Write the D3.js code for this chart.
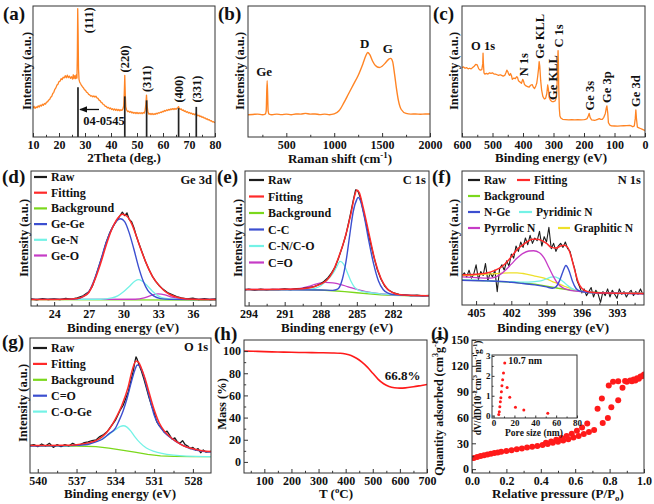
<!DOCTYPE html>
<html><head><meta charset="utf-8">
<script src="https://cdn.jsdelivr.net/npm/d3@7/dist/d3.min.js"></script>
<style>html,body{margin:0;padding:0;background:#fff;overflow:hidden}</style>
</head><body>
<svg id="fig" width="654" height="504" xmlns="http://www.w3.org/2000/svg"></svg>
<script>
// ================= DATA =================
// (a) XRD: [2theta, intensity %]
const xrdPattern = [[10,22],[10.4,23.5],[10.8,21.8],[11.2,23],[11.6,22.4],[12,23.8],[12.4,22.9],[12.8,24.3],[13.2,23.6],[13.6,25],[14,24.2],[14.4,25.6],[14.8,25.1],[15.2,26.6],[15.6,26.8],[16,28.2],[16.4,28.6],[16.8,30.4],[17.2,31],[17.6,33.2],[18,34.1],[18.4,36.4],[18.8,37.5],[19.2,39.6],[19.6,40.2],[20,42.3],[20.4,42.6],[20.8,44.5],[21.2,43.8],[21.6,45.6],[22,45.1],[22.4,46.8],[22.8,45.2],[23.2,47.2],[23.6,45.3],[24,46.5],[24.4,44.8],[24.8,46],[25.2,44.2],[25.5,47.5],[25.8,44.6],[26.1,46.8],[26.4,44.5],[26.7,47.6],[26.9,45],[27.05,62],[27.2,98],[27.35,80],[27.5,52],[27.7,44],[27.9,42.2],[28.2,41],[28.6,39.6],[29,38.4],[29.4,37.5],[29.8,36.1],[30.2,35.6],[30.6,34.2],[31,33.8],[31.4,32.5],[31.8,32.2],[32.2,31.2],[32.6,31.5],[33,30.6],[33.4,31.4],[33.8,30.5],[34.2,31.2],[34.6,29.8],[35,29.5],[35.4,28.2],[35.8,27.8],[36.2,26.4],[36.6,26],[37,24.8],[37.4,24.5],[37.8,23.4],[38.2,23.3],[38.6,22.2],[39,22.6],[39.4,21.6],[39.8,22.2],[40.2,21],[40.6,21.6],[41,20.6],[41.4,21.4],[41.8,20.4],[42.2,21.2],[42.6,20.2],[43,21],[43.4,20],[43.8,20.8],[44.2,20.3],[44.6,21.4],[44.9,24],[45.1,33],[45.3,47],[45.5,32],[45.7,23],[46,20.6],[46.4,19.4],[46.8,19.8],[47.2,18.8],[47.6,19.5],[48,18.4],[48.4,19],[48.8,18.1],[49.2,18.8],[49.6,17.9],[50,18.7],[50.4,17.8],[50.8,18.6],[51.2,17.9],[51.6,18.6],[52,17.8],[52.4,18.7],[52.8,18.2],[53.1,20],[53.4,25],[53.65,32],[53.9,24],[54.2,19],[54.6,17.4],[55,18],[55.4,17.2],[55.8,17.9],[56.2,17.1],[56.6,17.8],[57,17.3],[57.4,18.1],[57.8,17.6],[58.2,18.5],[58.6,18.2],[59,19],[59.4,18.7],[59.8,19.6],[60.2,19.3],[60.6,20.2],[61,19.8],[61.4,20.7],[61.8,20.2],[62.2,21.1],[62.6,20.6],[63,21.5],[63.4,20.9],[63.8,21.7],[64.2,21],[64.6,21.8],[65,21.1],[65.4,21.9],[65.8,22.6],[66,23.2],[66.2,22],[66.6,21.1],[67,21.4],[67.4,20.3],[67.8,20.6],[68.2,19.6],[68.6,19.9],[69,18.9],[69.4,19.3],[69.8,18.3],[70.2,18.7],[70.6,17.8],[71,18.2],[71.4,17.3],[71.8,17.8],[72.2,16.9],[72.6,17.6],[72.8,18.4],[73,17],[73.4,16.2],[73.8,16.6],[74.2,15.6],[74.6,16],[75,15],[75.4,15.3],[75.8,14.4],[76.2,14.6],[76.6,13.7],[77,13.9],[77.4,13],[77.8,13.2],[78.2,12.3],[78.6,12.4],[79,11.5],[79.4,11.7],[80,10.8]];
const refTheta = [27.3, 45.3, 53.7, 66.0, 72.8];
const refHeight = [38, 31, 28, 22, 23];
const xrdPeakNames = ["(111)","(220)","(311)","(400)","(331)"];
const xrdPeakTop = [77, 47, 32, 24, 24];
const xrdTicks = [10,20,30,40,50,60,70,80];

// (b) Raman: [shift, intensity %]
const raman = [[100,17],[150,17.2],[200,17.5],[250,17],[280,17.5],[290,20],[300,43],[310,20],[320,17.5],[350,17],[400,17.5],[450,17.1],[500,17.5],[550,17],[600,17.6],[650,17.5],[700,18],[750,17.5],[800,17.6],[850,17.1],[900,17.5],[950,17],[1000,17.6],[1050,20],[1100,26],[1150,33],[1200,40],[1250,47],[1300,56],[1330,62],[1350,64.5],[1370,63],[1400,58],[1430,54.5],[1470,53],[1500,54],[1540,57],[1570,59.5],[1590,60],[1610,57.5],[1630,48],[1650,37],[1670,28],[1700,21],[1750,18],[1800,17.5],[1850,17.6],[1900,17.4],[1950,17.6],[2000,17.5]];
const ramanPeakShift = [300, 1350, 1590];
const ramanPeakName = ["Ge","D","G"];
const ramanPeakTop = [43, 64.5, 60];
const ramanTicks = [500,1000,1500,2000];

// (c) XPS survey: [binding energy, intensity %]
const survey = [[600,53],[595,53.5],[590,52.5],[585,53],[580,52],[575,52.5],[570,52],[565,53],[560,54],[555,55.5],[550,55],[545,52],[540,51],[535,51.5],[532,56],[531,64],[530,57],[528,49],[525,48],[520,48.5],[515,48],[510,49],[505,48.5],[500,49],[495,48],[490,48],[485,47.5],[480,47],[475,47.5],[470,47],[465,46.5],[460,47],[456,49],[453,51],[450,50],[447,48],[444,47],[441,48.5],[438,47],[435,44],[430,45],[425,44.5],[421,46],[418,45.5],[415,43],[410,42],[405,41],[401,44],[398,42.5],[395,40],[390,39],[385,38.5],[380,38],[375,39.5],[370,40],[366,38],[362,37],[358,39],[355,41],[352,46],[349,52],[347,57.5],[345,54],[342,43],[339,36],[335,31],[330,29],[326,29.5],[322,33],[319,39.7],[317,37],[314,30],[310,28],[305,27],[300,27],[295,27.5],[292,29],[289,35],[287,50],[286,60],[285,66],[284,58],[283,40],[281,22],[279,16],[276,14.5],[270,13.5],[260,13.3],[250,13],[240,13.2],[230,13],[220,13.3],[210,13],[200,13.2],[195,13.5],[190,14],[186,16],[183,18],[180,15],[175,13],[165,12.7],[160,13],[155,13.5],[150,14],[145,13.5],[140,13.5],[135,15],[130,18],[127,22],[125,23.7],[122,18],[120,11],[115,9],[110,8.5],[100,8.4],[90,8.3],[80,8.5],[70,8.6],[60,8.7],[50,8.8],[45,8.5],[40,7.8],[35,8.5],[32,14],[30,20.6],[28,14],[25,7.5],[20,7],[15,6.5],[10,6],[5,5.5],[0,5]];
const surveyPeakBE = [531, 398, 347, 319, 285, 182, 125, 30];
const surveyPeakName = ["O 1s","N 1s","Ge KLL","Ge KLL","C 1s","Ge 3s","Ge 3p","Ge 3d"];
const surveyTicks = [600,500,400,300,200,100,0];

// (d) Ge 3d
const ge3dRaw = [[22,5.2],[22.5,4.6],[23,5.5],[23.5,4.8],[24,5.3],[24.5,4.7],[25,5.6],[25.5,5.0],[26,6.0],[26.5,7.5],[27,10.5],[27.3,14.5],[27.6,22],[27.9,30],[28.2,38],[28.5,47],[28.8,54],[29.1,59],[29.4,63],[29.7,67],[29.9,69.5],[30.1,67],[30.3,69],[30.5,64],[30.7,62.5],[30.9,58],[31.1,52],[31.3,47],[31.6,40],[31.9,33],[32.2,27],[32.5,22],[32.8,18],[33.1,15],[33.4,12.5],[33.8,10],[34.2,8.5],[34.6,7],[35,6],[35.5,5.3],[36,5.8],[36.5,4.7],[37,5.4],[37.5,4.8],[38,5.2]];
const ge3dFit = [[22,4.9],[24,4.9],[25,5],[26,5.6],[26.5,7],[27,10],[27.5,19],[28,31],[28.5,45],[29,57],[29.5,65],[29.9,68],[30.3,66.5],[30.7,61],[31.1,52],[31.5,42],[32,31],[32.5,22],[33,16],[33.5,11.5],[34,8.5],[34.5,6.8],[35,5.8],[36,5.0],[38,4.8]];
const ge3dBg = [[22,4.8],[30,4.6],[38,4.4]];
const ge3dGeGe = [[22,4.9],[25,4.9],[26,5.4],[26.5,7],[27,10.5],[27.5,20],[28,33],[28.5,47],[29,57.5],[29.4,63],[29.75,64.6],[30.1,62.5],[30.5,54],[30.9,42],[31.3,29],[31.7,18.5],[32.1,11.5],[32.6,7.5],[33.2,5.5],[34,4.9],[38,4.8]];
const ge3dGeN = [[22,4.9],[28,5],[29,6],[29.5,7.5],[30,10.5],[30.5,14.5],[31,18.5],[31.3,19.5],[31.6,18.5],[32,15.5],[32.5,11],[33,7.5],[33.5,5.8],[34.5,5],[38,4.8]];
const ge3dGeO = [[22,4.9],[31,5],[31.8,6],[32.4,7.8],[33,9],[33.6,8.2],[34.2,6.5],[35,5.3],[36,4.9],[38,4.8]];
const ge3dTicks = [24,27,30,33,36];

// (e) C 1s
const c1sRaw = [[294.3,12],[294,12.5],[293.5,11.8],[293,12.4],[292.5,11.9],[292,12.3],[291.5,12.1],[291,12.6],[290.5,12.2],[290,12.8],[289.5,13],[289,13.6],[288.5,14.5],[288,16.5],[287.7,18.5],[287.4,21],[287.1,24.5],[286.8,29],[286.5,36],[286.2,44],[285.9,53],[285.6,65],[285.3,78],[285.1,86],[284.9,85],[284.7,80],[284.5,72],[284.2,60],[283.9,48],[283.6,37],[283.3,27],[283,20],[282.7,15],[282.4,12],[282,10],[281.5,8.6],[281,8.3],[280.5,7.7],[280,8.1],[279.5,7.5],[279,7.9]];
const c1sFit = [[294.3,12.2],[290,12.6],[289,13.3],[288.5,14.5],[288,16.2],[287.5,19],[287,25.5],[286.5,36.5],[286,50],[285.5,68],[285.2,81],[285,86],[284.8,84],[284.5,74],[284,54],[283.5,34],[283,20.5],[282.5,13],[282,9.8],[281.5,8.5],[280.5,7.9],[279,7.6]];
const c1sBg = [[294.3,12.2],[290,12.1],[288,11.8],[287,11.3],[286,10.6],[285,9.8],[284,9],[283,8.3],[282,7.9],[280,7.6],[279,7.5]];
const c1sCC = [[294.3,12.2],[288,11.9],[287,11.6],[286.6,12.5],[286.2,20],[285.9,33],[285.6,52],[285.3,70],[285,79],[284.9,80.5],[284.7,78],[284.4,67],[284,48],[283.6,31],[283.2,18.5],[282.8,12],[282.4,9.5],[282,8.5],[280.5,7.8],[279,7.6]];
const c1sCN = [[294.3,12.2],[290,12.1],[289,12.3],[288.5,13],[288,15],[287.5,19],[287,24],[286.7,28.5],[286.4,33],[286.1,31],[285.8,25],[285.5,18.5],[285.2,14],[284.8,11.5],[284,10],[283,9],[282,8.3],[279,7.6]];
const c1sCO = [[294.3,12.2],[291,12.4],[290,12.9],[289.5,13.5],[289,14.5],[288.5,16],[288,17.2],[287.6,17.5],[287,17.2],[286.5,16.2],[286,15],[285.5,13.6],[285,12.3],[284.5,11.2],[284,10.3],[283,9.1],[282,8.2],[280,7.7],[279,7.6]];
const c1sTicks = [294,291,288,285,282];

// (f) N 1s
const n1sRaw = [[406.2,22],[406,24],[405.8,21],[405.6,26],[405.4,20],[405.2,23],[405,30],[404.8,19],[404.6,25],[404.4,22],[404.2,31],[404,18],[403.8,24],[403.6,21],[403.4,26],[403.2,10],[403,27],[402.8,30],[402.6,26],[402.4,33],[402.2,29],[402,38],[401.8,35],[401.6,44],[401.4,40],[401.2,47],[401,43],[400.8,50],[400.6,45],[400.4,52],[400.2,46],[400,50],[399.8,48],[399.6,55],[399.4,44],[399.2,51],[399,47],[398.8,58],[398.6,42],[398.4,46],[398.2,40],[398,44],[397.8,46],[397.6,43],[397.4,47],[397.2,42],[397,40],[396.8,33],[396.6,27],[396.4,18],[396.2,14],[396,9],[395.8,12],[395.6,7],[395.4,10],[395.2,13],[395,6],[394.8,11],[394.6,8],[394.4,2],[394.2,10],[394,7],[393.8,12],[393.6,6],[393.4,11],[393.2,8],[393,5],[392.8,12],[392.6,8],[392.4,10],[392.2,6],[392,9],[391.8,11],[391.6,7],[391.4,10],[391.2,8],[391,12],[390.8,8]];
const n1sFit = [[406.2,22.5],[405,23],[404,24],[403.5,25.5],[403,27.5],[402.5,31],[402,36],[401.5,41.5],[401,45],[400.5,48],[400.2,49],[399.8,49],[399.4,48],[399,46],[398.6,43],[398.2,42.5],[397.8,44],[397.5,44.5],[397.2,43],[396.9,36],[396.6,26],[396.3,17],[396,12.5],[395.5,10],[395,9.3],[394,8.9],[392,8.7],[390.7,8.6]];
const n1sBg = [[406.2,18.5],[404,18],[402,17],[400,15.5],[399,14],[398,12.5],[397,11.2],[396,10.2],[395,9.5],[394,9],[392,8.7],[390.7,8.5]];
const n1sNGe = [[406.2,18.5],[404,18],[402,17],[401,16],[400,15],[399,13.5],[398.5,12.5],[398.2,13.5],[397.9,18],[397.6,25],[397.35,29.5],[397.1,26],[396.8,18],[396.5,12.5],[396.2,10.5],[395.5,9.3],[394,8.8],[390.7,8.6]];
const n1sPyridinic = [[406.2,18.5],[405,18.5],[404,18],[403,17.5],[402,17.5],[401,17],[400,17.5],[399.5,18],[399,19.5],[398.6,20.8],[398.3,21],[398,20],[397.6,17.5],[397.2,14.5],[396.8,12],[396.3,10.5],[395.5,9.5],[394,9],[390.7,8.7]];
const n1sPyrrolic = [[406.2,21],[405,20.5],[404,20],[403.5,20.5],[403,22.5],[402.5,26],[402,30.5],[401.5,35],[401,38.5],[400.5,40.3],[400.1,40.5],[399.6,39],[399.2,35],[398.8,28],[398.4,21],[398,15.5],[397.6,12.8],[397,11],[396,10],[394,9],[390.7,8.3]];
const n1sGraphitic = [[406.2,22],[405,22.5],[404,23],[403,23.5],[402.2,24],[401.5,24],[401,23.5],[400,21.5],[399,19.5],[398.5,17.5],[398,16],[397.5,14],[397,12.5],[396.5,11],[395.5,9.5],[394,9],[390.7,8.7]];
const n1sTicks = [405,402,399,396,393];

// (g) O 1s
const o1sRaw = [[540.6,20.5],[540.3,21],[540,19.5],[539.7,21.5],[539.4,20],[539.1,22],[538.8,19],[538.5,21],[538.2,19.5],[537.9,21],[537.6,20],[537.3,22],[537,20.5],[536.7,21],[536.4,22.5],[536.1,23],[535.8,24],[535.5,24.5],[535.2,27],[534.9,28.5],[534.6,31],[534.3,35],[534,39],[533.8,43],[533.6,47],[533.4,50],[533.2,55],[533,60],[532.8,68],[532.6,76],[532.5,82],[532.4,86],[532.3,84],[532.2,81],[532,76],[531.8,70],[531.6,63],[531.4,56],[531.2,50],[531,45],[530.8,38],[530.6,35],[530.4,33],[530.2,30],[530,31],[529.8,28],[529.6,25],[529.4,26],[529.2,23],[529,22],[528.8,24],[528.6,21],[528.4,20],[528.2,18],[528,19],[527.8,17],[527.6,18],[527.4,15],[527.2,17],[527,15.5],[526.6,16]];
const o1sFit = [[540.6,20.3],[538,20.5],[537,21],[536,22.5],[535.5,24],[535,27],[534.5,32],[534,40],[533.5,50],[533,64],[532.7,76],[532.4,83],[532.2,82],[532,78],[531.7,70],[531.4,60],[531,47],[530.6,37],[530.2,31],[529.8,27],[529.3,23.5],[528.7,20],[528,18],[527.3,16.5],[526.6,16]];
const o1sBg = [[540.6,20],[537,20],[535.5,19.5],[534.5,18.5],[533.5,17],[532.5,15.5],[531.5,13.8],[530.5,12.7],[529.5,12.3],[528,12.2],[526.6,12.1]];
const o1sCO = [[540.6,20],[538,20.2],[537,20.5],[536,21.5],[535.5,23],[535,25],[534.5,29],[534,33],[533.7,39],[533.4,46],[533.1,55],[532.8,66],[532.5,76],[532.3,80],[532.1,79],[531.8,72],[531.5,61],[531.2,50],[531,43],[530.6,35],[530.2,30],[529.7,26],[529,21.5],[528.3,18.5],[527.5,16.5],[526.6,15.5]];
const o1sCOGe = [[540.6,20],[538,20.2],[537,20.5],[536,22],[535.5,23.5],[535,25.5],[534.5,28.5],[534,32],[533.6,34.5],[533.4,35],[533.1,34],[532.8,31],[532.5,27],[532.1,22.5],[531.6,18.5],[531,16],[530.4,14.5],[529.5,13.2],[528.5,12.5],[527,12.2],[526.6,12.2]];
const o1sTicks = [540,537,534,531,528];

// (h) TGA: [T degC, mass %]
const tga = [[25,100],[60,99.8],[100,99.5],[150,99.2],[200,98.9],[250,98.7],[300,98.5],[350,98.3],[380,98],[400,97.3],[420,96],[440,93.5],[460,90],[480,85.5],[500,80],[520,74.5],[540,70.5],[560,68],[580,66.9],[600,66.6],[620,66.8],[650,67.8],[680,69],[700,69.8]];
const tgaResidue = "66.8%";
const tgaXTicks = [100,200,300,400,500,600,700];
const tgaYTicks = [0,20,40,60,80,100];

// (i) N2 isotherm: [P/P0, quantity]
const adsorption = [[0.01,12.8],[0.03,14],[0.05,15.2],[0.07,16.2],[0.09,17],[0.11,17.8],[0.13,18.6],[0.15,19.4],[0.17,20.1],[0.2,21],[0.23,22],[0.26,23],[0.29,24],[0.32,25],[0.35,26],[0.38,27],[0.41,28],[0.44,29.2],[0.47,30.5],[0.5,31.8],[0.53,33.2],[0.56,34.8],[0.59,36.6],[0.62,38.6],[0.65,40.8],[0.68,43],[0.71,45.5],[0.76,53.5],[0.79,59.5],[0.81,72],[0.85,80],[0.875,94.5],[0.9,101.5],[0.93,102],[0.95,103],[0.97,105],[0.99,108]];
const desorption = [[1.0,110],[0.98,107.5],[0.96,105.5],[0.94,104],[0.92,103],[0.89,102.5],[0.85,102],[0.82,101.5],[0.795,97],[0.755,82],[0.73,70],[0.67,53],[0.64,48.5],[0.61,44.5],[0.58,41],[0.55,38.5],[0.52,36.2],[0.49,34],[0.46,32],[0.43,30.5]];
const poreDist = [[5,0.05],[5.5,0.2],[6,0.45],[6.5,0.7],[7,0.9],[7.5,1.2],[8,1.5],[8.7,1.8],[9.5,2.15],[10.7,2.65],[13,1.42],[15.5,0.92],[21,0.42],[29,0.28],[52,0.12]];
const poreLabel = "10.7 nm";
const isoXTicks = [0,0.2,0.4,0.6,0.8,1.0];
const isoYTicks = [0,30,60,90,120,150];
const poreXTicks = [0,20,40,60,80];
const poreYTicks = [0,1,2,3];

// ================= DRAWING =================
const svg = d3.select("#fig");
svg.append("rect").attr("width",654).attr("height",504).attr("fill","#fff");
const FONT = '"Liberation Serif","Times New Roman",serif';
const C = {raw:"#1c1c1c", fit:"#ff2a2a", bg:"#7bd81c", blue:"#3c4fd0", cyan:"#74f2e6", mag:"#c63cc6", yel:"#eee02a", orange:"#ff8424", red:"#ff1a1a"};
const TICK_FS = 12;
let clipN = 0;

function mkPanel(box, xd, yd){
  const [x0,x1,y0,y1] = box;
  const x = d3.scaleLinear().domain(xd).range([x0,x1]);
  const y = d3.scaleLinear().domain(yd).range([y1,y0]);
  const id = "clip"+(clipN++);
  svg.append("clipPath").attr("id",id).append("rect").attr("x",x0).attr("y",y0).attr("width",x1-x0).attr("height",y1-y0);
  const plot = svg.append("g").attr("clip-path",`url(#${id})`);
  const fg = svg.append("g");
  return {x,y,plot,fg,box};
}
function frame(p){
  const [x0,x1,y0,y1]=p.box;
  p.fg.append("rect").attr("x",x0).attr("y",y0).attr("width",x1-x0).attr("height",y1-y0)
    .attr("fill","none").attr("stroke","#333").attr("stroke-width",1);
}
function styleAxis(g, fs){
  g.attr("font-family",FONT).attr("font-size",fs).attr("font-weight","bold");
  g.select(".domain").remove();
  g.selectAll("line").attr("stroke","#333");
  g.selectAll("text").attr("fill","#111");
}
function minorVals(major){
  const out=[]; for(let i=0;i<major.length-1;i++) out.push((major[i]+major[i+1])/2); return out;
}
function xAxis(p, major, o={}){
  const fs=o.fs||TICK_FS;
  const ax=d3.axisBottom(p.x).tickValues(major).tickSizeInner(-(o.len||4)).tickSizeOuter(0).tickPadding(o.pad||3).tickFormat(o.fmt||(d=>d));
  const g=p.fg.append("g").attr("transform",`translate(0,${p.box[3]})`).call(ax); styleAxis(g,fs);
  const mv=(o.minor||minorVals(major)).filter(v=>{const px=p.x(v);return px>p.box[0]+1&&px<p.box[1]-1;});
  const g2=p.fg.append("g").attr("transform",`translate(0,${p.box[3]})`).call(d3.axisBottom(p.x).tickValues(mv).tickSizeInner(-(o.mlen||2.2)).tickSizeOuter(0).tickFormat(""));
  styleAxis(g2,fs);
}
function yAxis(p, major, o={}){
  const fs=o.fs||TICK_FS;
  const ax=d3.axisLeft(p.y).tickValues(major).tickSizeInner(-(o.len||4)).tickSizeOuter(0).tickPadding(o.pad||3).tickFormat(o.fmt||(d=>d));
  const g=p.fg.append("g").attr("transform",`translate(${p.box[0]},0)`).call(ax); styleAxis(g,fs);
  const mv=(o.minor||minorVals(major)).filter(v=>{const py=p.y(v);return py>p.box[2]+1&&py<p.box[3]-1;});
  const g2=p.fg.append("g").attr("transform",`translate(${p.box[0]},0)`).call(d3.axisLeft(p.y).tickValues(mv).tickSizeInner(-(o.mlen||2.2)).tickSizeOuter(0).tickFormat(""));
  styleAxis(g2,fs);
}
function drawLine(p, data, color, w, curve){
  p.plot.append("path").datum(data).attr("fill","none").attr("stroke",color).attr("stroke-width",w)
    .attr("stroke-linejoin","round")
    .attr("d", d3.line().x(d=>p.x(d[0])).y(d=>p.y(d[1])).curve(curve||d3.curveLinear));
}
function rich(g, x, y, segs, fs, anchor, rot){
  const t=g.append("text").attr("font-family",FONT).attr("font-weight","bold").attr("font-size",fs)
    .attr("fill","#111").attr("text-anchor",anchor||"middle");
  if(rot) t.attr("transform",`translate(${x},${y}) rotate(${rot})`); else t.attr("x",x).attr("y",y);
  let shift=0;
  segs.forEach(s=>{
    const [str,kind]=Array.isArray(s)?s:[s,null];
    const target= kind==="sup"? -fs*0.38 : kind==="sub"? fs*0.22 : 0;
    const ts=t.append("tspan").text(str).attr("dy",target-shift);
    if(kind) ts.attr("font-size",fs*0.68);
    shift=target;
  });
  return t;
}
function legendItem(g, x, y, len, color, label, fs){
  g.append("line").attr("x1",x).attr("x2",x+len).attr("y1",y).attr("y2",y).attr("stroke",color).attr("stroke-width",2.2);
  rich(g, x+len+4, y+4, [label], fs||12, "start");
}
function panelLabel(x,y,s){ rich(svg, x, y, [s], 19, "start"); }
const smooth = d3.curveMonotoneX;

// ---------- (a) XRD ----------
const pa = mkPanel([33,215,6,137],[10,80],[0,100]);
drawLine(pa, xrdPattern, C.orange, 1.3);
pa.plot.selectAll(null).data(refTheta).join("line")
  .attr("x1",d=>pa.x(d)).attr("x2",d=>pa.x(d)).attr("y1",pa.y(0)).attr("y2",(d,i)=>pa.y(refHeight[i]))
  .attr("stroke","#222").attr("stroke-width",1.7);
frame(pa); xAxis(pa, xrdTicks);
xrdPeakNames.forEach((n,i)=>{
  const dx = i===0 ? 15 : 4.5;
  rich(pa.fg, pa.x(refTheta[i])+dx, pa.y(xrdPeakTop[i])-3, [n], 12.5, "start", -90);
});
svg.append("defs").append("marker").attr("id","arrow").attr("viewBox","0 0 10 10").attr("refX",9).attr("refY",5)
  .attr("markerWidth",6).attr("markerHeight",6).attr("orient","auto")
  .append("path").attr("d","M0,1 L10,5 L0,9 Z").attr("fill","#111");
pa.fg.append("line").attr("x1",pa.x(refTheta[0])+21).attr("x2",pa.x(refTheta[0])+2)
  .attr("y1",pa.y(21)).attr("y2",pa.y(21)).attr("stroke","#111").attr("stroke-width",1.3).attr("marker-end","url(#arrow)");
rich(pa.fg, pa.x(refTheta[0])+26, pa.y(9), ["04-0545"], 12.5, "middle");
rich(svg, 31, 71, ["Intensity (a.u.)"], 12.5, "middle", -90);
rich(svg, 124, 162, ["2Theta (deg.)"], 13, "middle");
panelLabel(3,20,"(a)");

// ---------- (b) Raman ----------
const pb = mkPanel([248,430,6,137],[100,2000],[0,100]);
drawLine(pb, raman, C.orange, 1.4, smooth);
frame(pb); xAxis(pb, ramanTicks, {minor:[250,750,1250,1750]});
ramanPeakName.forEach((n,i)=>{
  rich(pb.fg, pb.x(ramanPeakShift[i])-3, pb.y(ramanPeakTop[i])-5, [n], 13, "middle");
});
rich(svg, 244, 71, ["Intensity (a.u.)"], 12.5, "middle", -90);
rich(svg, 340, 163, ["Raman shift (cm", ["-1","sup"], ")"], 13, "middle");
panelLabel(218,20,"(b)");

// ---------- (c) survey ----------
const pc = mkPanel([462,645,6,137],[600,0],[0,100]);
drawLine(pc, survey, C.orange, 1.3);
frame(pc); xAxis(pc, surveyTicks);
surveyPeakBE.forEach((be,i)=>{
  const near = survey.filter(d=>Math.abs(d[0]-be)<=3);
  const top = d3.max(near,d=>d[1]);
  if(i===0) rich(pc.fg, pc.x(be), pc.y(top)-3, [surveyPeakName[i]], 12.5, "middle");
  else if(i===3) rich(pc.fg, pc.x(be)+9, pc.y(top)+15, [surveyPeakName[i]], 12.5, "start", -90);
  else rich(pc.fg, pc.x(be)+4.5, pc.y(top)-3, [surveyPeakName[i]], 12.5, "start", -90);
});
rich(svg, 458, 71, ["Intensity (a.u.)"], 12.5, "middle", -90);
rich(svg, 551, 162, ["Binding energy (eV)"], 13, "middle");
panelLabel(433,20,"(c)");

// ---------- (d) Ge 3d ----------
const pd = mkPanel([31,216,171,306],[22,38],[0,100]);
drawLine(pd, ge3dBg, C.bg, 1.3);
drawLine(pd, ge3dGeO, C.mag, 1.3, smooth);
drawLine(pd, ge3dGeN, C.cyan, 1.3, smooth);
drawLine(pd, ge3dRaw, C.raw, 1.3);
drawLine(pd, ge3dGeGe, C.blue, 1.4, smooth);
drawLine(pd, ge3dFit, C.fit, 1.5, smooth);
frame(pd); xAxis(pd, ge3dTicks, {minor:[22.5,25.5,28.5,31.5,34.5,37.5]});
[["Raw",C.raw],["Fitting",C.fit],["Background",C.bg],["Ge-Ge",C.blue],["Ge-N",C.cyan],["Ge-O",C.mag]]
  .forEach((it,i)=>legendItem(pd.fg, 34, 177+i*15.7, 13, it[1], it[0]));
rich(pd.fg, 212, 184, ["Ge 3d"], 12.5, "end");
rich(svg, 28, 238, ["Intensity (a.u.)"], 12.5, "middle", -90);
rich(svg, 123, 332, ["Binding energy (eV)"], 13, "middle");
panelLabel(2,183,"(d)");

// ---------- (e) C 1s ----------
const pe = mkPanel([245,429,171,306],[294.3,279],[0,100]);
drawLine(pe, c1sBg, C.bg, 1.3);
drawLine(pe, c1sCO, C.mag, 1.3, smooth);
drawLine(pe, c1sCN, C.cyan, 1.3, smooth);
drawLine(pe, c1sRaw, C.raw, 1.3);
drawLine(pe, c1sCC, C.blue, 1.4, smooth);
drawLine(pe, c1sFit, C.fit, 1.5, smooth);
frame(pe); xAxis(pe, c1sTicks, {minor:[292.5,289.5,286.5,283.5,280.5]});
[["Raw",C.raw],["Fitting",C.fit],["Background",C.bg],["C-C",C.blue],["C-N/C-O",C.cyan],["C=O",C.mag]]
  .forEach((it,i)=>legendItem(pe.fg, 249, 180+i*16.5, 15, it[1], it[0]));
rich(pe.fg, 426, 184, ["C 1s"], 12.5, "end");
rich(svg, 242, 238, ["Intensity (a.u.)"], 12.5, "middle", -90);
rich(svg, 337, 332, ["Binding energy (eV)"], 13, "middle");
panelLabel(217,183,"(e)");

// ---------- (f) N 1s ----------
const pf = mkPanel([462,644,171,305],[406.2,390.7],[0,100]);
drawLine(pf, n1sBg, C.bg, 1.3);
drawLine(pf, n1sRaw, C.raw, 1.1);
drawLine(pf, n1sGraphitic, C.yel, 1.3, smooth);
drawLine(pf, n1sPyridinic, C.cyan, 1.3, smooth);
drawLine(pf, n1sPyrrolic, C.mag, 1.3, smooth);
drawLine(pf, n1sNGe, C.blue, 1.4, smooth);
drawLine(pf, n1sFit, C.fit, 1.5, smooth);
frame(pf); xAxis(pf, n1sTicks, {minor:[403.5,400.5,397.5,394.5,391.5]});
legendItem(pf.fg, 468, 180, 12, C.raw, "Raw", 11.5);
legendItem(pf.fg, 517, 180, 13, C.fit, "Fitting", 11.5);
legendItem(pf.fg, 468, 196, 12, C.bg, "Background", 11.5);
legendItem(pf.fg, 468, 212, 12, C.blue, "N-Ge", 11.5);
legendItem(pf.fg, 519, 212, 13, C.cyan, "Pyridinic N", 11.5);
legendItem(pf.fg, 468, 228, 12, C.mag, "Pyrrolic N", 11.5);
legendItem(pf.fg, 558, 228, 12, C.yel, "Graphitic N", 11.5);
rich(pf.fg, 641, 184, ["N 1s"], 12.5, "end");
rich(svg, 458, 238, ["Intensity (a.u.)"], 12.5, "middle", -90);
rich(svg, 553, 332, ["Binding energy (eV)"], 13, "middle");
panelLabel(432,183,"(f)");

// ---------- (g) O 1s ----------
const pg = mkPanel([30,211,338,473],[540.6,526.6],[0,100]);
drawLine(pg, o1sBg, C.bg, 1.3);
drawLine(pg, o1sCOGe, C.cyan, 1.3, smooth);
drawLine(pg, o1sRaw, C.raw, 1.3);
drawLine(pg, o1sCO, C.blue, 1.4, smooth);
drawLine(pg, o1sFit, C.fit, 1.5, smooth);
frame(pg); xAxis(pg, o1sTicks, {minor:[538.5,535.5,532.5,529.5,526.5]});
[["Raw",C.raw],["Fitting",C.fit],["Background",C.bg],["C=O",C.blue],["C-O-Ge",C.cyan]]
  .forEach((it,i)=>legendItem(pg.fg, 33, 348+i*15.9, 14, it[1], it[0]));
rich(pg.fg, 208, 351, ["O 1s"], 12.5, "end");
rich(svg, 27, 403, ["Intensity (a.u.)"], 12.5, "middle", -90);
rich(svg, 120, 498, ["Binding energy (eV)"], 13, "middle");
panelLabel(2,348,"(g)");

// ---------- (h) TGA ----------
const ph = mkPanel([244,427,340,473],[25,700],[-10,110]);
drawLine(ph, tga, C.red, 1.6, smooth);
frame(ph); xAxis(ph, tgaXTicks, {minor:[50,150,250,350,450,550,650]});
yAxis(ph, tgaYTicks, {minor:[10,30,50,70,90]});
rich(ph.fg, ph.x(610), ph.y(73.5), [tgaResidue], 13, "middle");
rich(svg, 226, 404, ["Mass (%)"], 12.5, "middle", -90);
rich(svg, 336, 498, ["T (", ["o","sup"], "C)"], 13, "middle");
panelLabel(214,340,"(h)");

// ---------- (i) isotherm ----------
const pi = mkPanel([472,644,340,473],[0,1.0],[-4.5,150]);
pi.plot.selectAll(null).data(adsorption.concat(desorption)).join("circle")
  .attr("cx",d=>pi.x(d[0])).attr("cy",d=>pi.y(d[1])).attr("r",3).attr("fill",C.red);
frame(pi); xAxis(pi, isoXTicks, {fmt:d3.format(".1f"), minor:[0.1,0.3,0.5,0.7,0.9]});
yAxis(pi, isoYTicks, {minor:[15,45,75,105,135]});
// inset
const pin = mkPanel([492,577,355,418],[-1.5,80],[-0.12,3.05]);
pin.plot.append("rect").attr("x",492).attr("y",355).attr("width",85).attr("height",63).attr("fill","#fff");
pin.plot.selectAll(null).data(poreDist).join("circle")
  .attr("cx",d=>pin.x(d[0])).attr("cy",d=>pin.y(d[1])).attr("r",1.5).attr("fill",C.red);
frame(pin);
xAxis(pin, poreXTicks, {fs:9, len:2.5, mlen:1.5, pad:1.5, minor:[10,30,50,70]});
yAxis(pin, poreYTicks, {fs:9, len:2.5, mlen:1.5, pad:1.5, minor:[0.5,1.5,2.5]});
rich(pin.fg, pin.x(14), pin.y(2.62), [poreLabel], 10, "start");
rich(svg, 534, 436, ["Pore size (nm)"], 9.5, "middle");
rich(svg, 481, 388, ["dV/dD(10", ["-2","sup"], "cm", ["3","sup"], " nm", ["-1","sup"], "g", ["-1","sup"], ")"], 9.5, "middle", -90);
rich(svg, 443, 406, ["Quantity adsorbed (cm", ["3","sup"], "g", ["-1","sup"], ")"], 12, "middle", -90);
rich(svg, 558, 498, ["Relative pressure (P/P", ["o","sub"], ")"], 13, "middle");
panelLabel(431,340,"(i)");
</script></body></html>
